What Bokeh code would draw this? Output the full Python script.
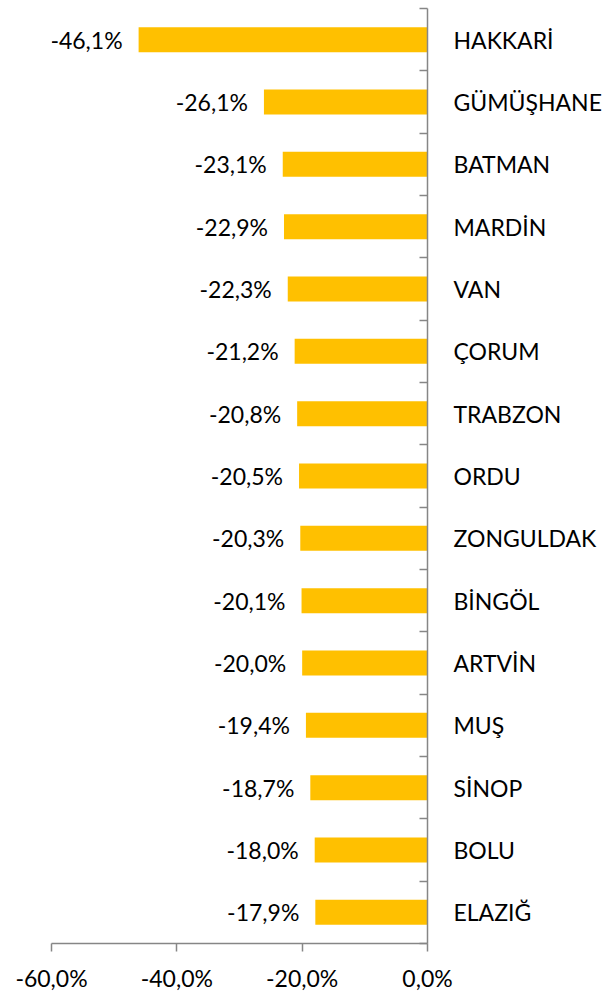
from bokeh.plotting import figure
from bokeh.models import Range1d, LinearAxis, FixedTicker
from bokeh.core.properties import value
from bokeh.embed import file_html
from bokeh.resources import INLINE

provinces = ["HAKKARİ", "GÜMÜŞHANE", "BATMAN", "MARDİN", "VAN", "ÇORUM", "TRABZON",
             "ORDU", "ZONGULDAK", "BİNGÖL", "ARTVİN", "MUŞ", "SİNOP", "BOLU", "ELAZIĞ"]
changes = [-46.1, -26.1, -23.1, -22.9, -22.3, -21.2, -20.8,
           -20.5, -20.3, -20.1, -20.0, -19.4, -18.7, -18.0, -17.9]
x_ticks = [-60, -40, -20, 0]
x_tick_labels = ["-60,0%", "-40,0%", "-20,0%", "0,0%"]

FONT = "Lato"
FS = "23px"
AXIS_COLOR = "#868686"

n = len(provinces)
ypos = [n - i for i in range(n)]  # top item highest
value_labels = [f"{v:.1f}%".replace(".", ",") for v in changes]

p = figure(width=615, height=994, output_backend="svg", toolbar_location=None,
           x_range=Range1d(-60, 0), y_range=Range1d(0.5, n + 0.5),
           min_border_left=51, min_border_right=188, min_border_top=8,
           min_border_bottom=51)
p.outline_line_color = None
p.background_fill_color = "white"
p.border_fill_color = "white"
p.xgrid.visible = False
p.ygrid.visible = False
p.yaxis.visible = False

xa = p.xaxis[0]
xa.ticker = FixedTicker(ticks=x_ticks, minor_ticks=[])
xa.major_label_overrides = {t: l for t, l in zip(x_ticks, x_tick_labels)}
xa.axis_line_color = AXIS_COLOR
xa.axis_line_width = 1.5
xa.major_tick_line_color = AXIS_COLOR
xa.major_tick_line_width = 1.5
xa.major_tick_out = 8
xa.major_tick_in = 0
xa.minor_tick_line_color = None
xa.major_label_standoff = 12
xa.major_label_text_font = FONT
xa.major_label_text_font_size = FS
xa.major_label_text_color = "black"

ra = LinearAxis(ticker=FixedTicker(ticks=ypos, minor_ticks=[y + 0.5 for y in range(n + 1)]))
ra.major_label_overrides = {y: name for y, name in zip(ypos, provinces)}
ra.axis_line_color = AXIS_COLOR
ra.axis_line_width = 1.5
ra.major_tick_line_color = None
ra.major_tick_in = 0
ra.major_tick_out = 0
ra.minor_tick_line_color = AXIS_COLOR
ra.minor_tick_line_width = 1.5
ra.minor_tick_in = 8
ra.minor_tick_out = 0
ra.major_label_standoff = 26
ra.major_label_text_font = FONT
ra.major_label_text_font_size = FS
ra.major_label_text_color = "black"
p.add_layout(ra, "right")

p.hbar(y=ypos, left=0, right=changes, height=0.4, color="#FFC000", line_color=None)

p.text(x=changes, y=ypos, text=value_labels, x_offset=-16,
       text_align="right", text_baseline="middle",
       text_font=value(FONT), text_font_size=FS, text_color="black")

open("out.html", "w").write(file_html(p, INLINE))
